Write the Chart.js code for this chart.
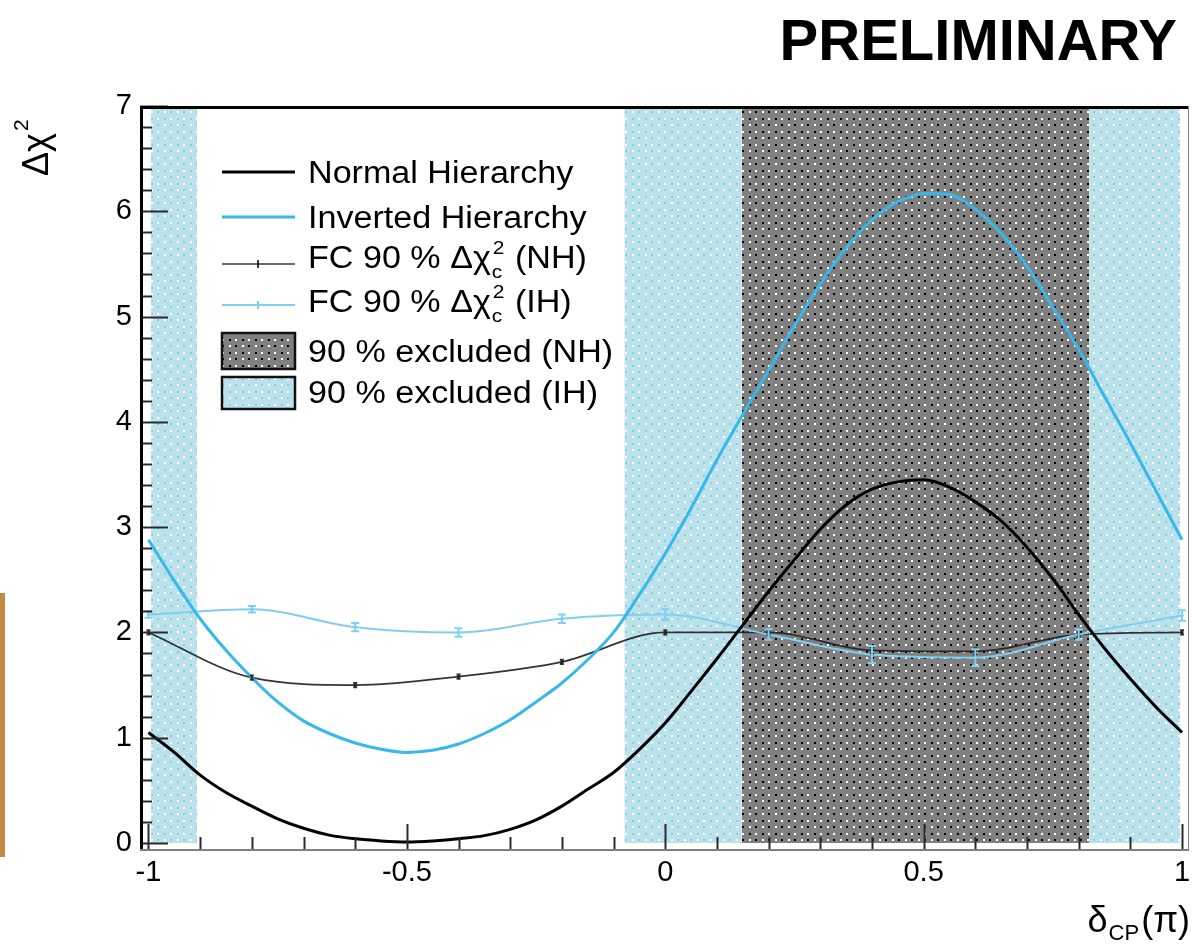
<!DOCTYPE html>
<html>
<head>
<meta charset="utf-8">
<script src="https://cdn.jsdelivr.net/npm/chart.js@4.4.1/dist/chart.umd.min.js"></script>
<style>
  html, body { margin: 0; padding: 0; background: #ffffff; }
  #wrap { position: relative; width: 1193px; height: 948px; overflow: hidden; }
  canvas { display: block; }
  #edge { position: absolute; left: 0; top: 593px; width: 5px; height: 264px; background: #c58b45; }
</style>
</head>
<body>
<div id="wrap">
  <canvas id="c" width="1193" height="948"></canvas>
  <div id="edge"></div>
</div>
<script>
// δCP scan points (units of π)
const deltaCP = [-1.00,-0.95,-0.90,-0.85,-0.80,-0.75,-0.70,-0.65,-0.60,-0.55,-0.50,-0.45,-0.40,-0.35,-0.30,-0.25,-0.20,-0.15,-0.10,-0.05,
                  0.00, 0.05, 0.10, 0.15, 0.20, 0.25, 0.30, 0.35, 0.40, 0.45, 0.50, 0.55, 0.60, 0.65, 0.70, 0.75, 0.80, 0.85, 0.90, 0.95, 1.00];

// Δχ² for the normal hierarchy
const chi2NH = [1.05,0.86,0.645,0.48,0.35,0.23,0.14,0.075,0.04,0.02,0.01,0.02,0.04,0.07,0.13,0.22,0.35,0.51,0.67,0.89,
                1.14,1.44,1.75,2.07,2.39,2.69,2.98,3.21,3.36,3.43,3.45,3.38,3.24,3.06,2.81,2.51,2.17,1.85,1.56,1.29,1.05];

// Δχ² for the inverted hierarchy
const chi2IH = [2.88,2.49,2.13,1.83,1.57,1.34,1.16,1.04,0.95,0.89,0.86,0.88,0.94,1.04,1.17,1.34,1.52,1.74,2.00,2.36,
                2.75,3.18,3.64,4.07,4.49,4.91,5.31,5.65,5.92,6.09,6.17,6.16,6.02,5.79,5.48,5.09,4.69,4.24,3.80,3.34,2.88];

// Feldman-Cousins 90 % critical values
const fcDelta  = [-1.0,-0.8,-0.6,-0.4,-0.2, 0.0, 0.2, 0.4, 0.6, 0.8, 1.0];
const fcNH     = [ 2.00,1.57,1.50,1.58,1.72,2.00,2.00,1.83,1.82,1.98,2.00];
const fcNHErr  = [ 0.02,0.02,0.02,0.02,0.02,0.02,0.02,0.03,0.03,0.02,0.02];
const fcIH     = [ 2.17,2.22,2.05,2.00,2.13,2.17,1.98,1.79,1.76,1.98,2.16];
const fcIHErr  = [ 0.03,0.03,0.04,0.04,0.04,0.05,0.05,0.08,0.08,0.05,0.05];

// δCP intervals excluded at 90 % CL
const excludedIH = [[-0.995,-0.906],[-0.079,0.148],[0.821,0.996]];
const excludedNH = [[0.148,0.821]];

// axis ticks
const xTickValues = [-1,-0.5,0,0.5,1];
const yTickValues = [0,1,2,3,4,5,6,7];

const FONT = "'Liberation Sans', Arial, Helvetica, sans-serif";
Chart.defaults.font.family = FONT;

const canvas = document.getElementById('c');
const ctx0 = canvas.getContext('2d');

// dotted hatch fills
function dotPattern(bg, dotA, dotB) {
  const t = document.createElement('canvas');
  t.width = 13; t.height = 13;
  const g = t.getContext('2d');
  g.fillStyle = bg; g.fillRect(0, 0, 13, 13);
  g.fillStyle = dotA; g.fillRect(1, 1, 2, 2); g.fillRect(8, 7, 2, 2);
  g.fillStyle = dotB; g.fillRect(8, 1, 2, 2); g.fillRect(1, 7, 2, 2);
  return ctx0.createPattern(t, 'repeat');
}
const fillIH = dotPattern('#bbe2eb', '#ffffff', '#86d1df');
const fillNH = dotPattern('#808080', '#ffffff', '#000000');

const COL_NH = '#000000';
const COL_IH = '#38b7ea';
const COL_FCNH = 'rgba(30,30,30,0.9)';
const COL_FCIH = '#80cff0';

function bandDatasets(intervals, fill) {
  return intervals.map(([a, b]) => ({
    data: [{x: a, y: 7}, {x: b, y: 7}],
    fill: 'origin',
    backgroundColor: fill,
    borderWidth: 0,
    pointRadius: 0,
    order: 10
  }));
}

const datasets = [
  ...bandDatasets(excludedIH, fillIH),
  ...bandDatasets(excludedNH, fillNH),
  {
    label: 'FC 90 % (NH)',
    data: fcDelta.map((x, i) => ({x, y: fcNH[i]})),
    errorBars: fcNHErr, capHalf: 2,
    borderColor: COL_FCNH, backgroundColor: COL_FCNH,
    borderWidth: 1.7, pointRadius: 1.6, pointBorderWidth: 0,
    cubicInterpolationMode: 'monotone', fill: false, order: 4
  },
  {
    label: 'FC 90 % (IH)',
    data: fcDelta.map((x, i) => ({x, y: fcIH[i]})),
    errorBars: fcIHErr, capHalf: 4,
    borderColor: COL_FCIH, backgroundColor: COL_FCIH,
    borderWidth: 2, pointRadius: 1.6, pointBorderWidth: 0,
    cubicInterpolationMode: 'monotone', fill: false, order: 3
  },
  {
    label: 'Normal Hierarchy',
    data: deltaCP.map((x, i) => ({x, y: chi2NH[i]})),
    borderColor: COL_NH, borderWidth: 3, pointRadius: 0,
    cubicInterpolationMode: 'monotone', fill: false, order: 2
  },
  {
    label: 'Inverted Hierarchy',
    data: deltaCP.map((x, i) => ({x, y: chi2IH[i]})),
    borderColor: COL_IH, borderWidth: 3, pointRadius: 0,
    cubicInterpolationMode: 'monotone', fill: false, order: 1
  }
];

// vertical error bars on the FC points
const errorBars = {
  id: 'errorBars',
  afterDatasetsDraw(chart) {
    const {ctx, scales: {x, y}} = chart;
    chart.data.datasets.forEach(ds => {
      if (!ds.errorBars) return;
      ctx.save();
      ctx.strokeStyle = ds.borderColor;
      ctx.lineWidth = 2;
      ds.data.forEach((p, j) => {
        const e = ds.errorBars[j];
        const px = x.getPixelForValue(p.x);
        const y1 = y.getPixelForValue(p.y - e);
        const y2 = y.getPixelForValue(p.y + e);
        const c = ds.capHalf;
        ctx.beginPath();
        ctx.moveTo(px, y1); ctx.lineTo(px, y2);
        ctx.moveTo(px - c, y1); ctx.lineTo(px + c, y1);
        ctx.moveTo(px - c, y2); ctx.lineTo(px + c, y2);
        ctx.stroke();
      });
      ctx.restore();
    });
  }
};

// frame and inward tick marks
const frame = {
  id: 'frame',
  afterDatasetsDraw(chart) {
    const {ctx, chartArea: a, scales: {x, y}} = chart;
    ctx.save();
    ctx.strokeStyle = '#2a2a2a';
    ctx.lineWidth = 2;
    for (let k = 0; k <= 35; k++) {
      const py = Math.round(y.getPixelForValue(k / 5)) + 0.5;
      const len = (k % 5 === 0) ? 28 : 12;
      ctx.beginPath(); ctx.moveTo(a.left, py); ctx.lineTo(a.left + len, py); ctx.stroke();
    }
    for (let k = -10; k <= 10; k++) {
      const px = Math.round(x.getPixelForValue(k / 10)) + 0.5;
      const len = (k % 5 === 0) ? 27 : 14;
      ctx.beginPath(); ctx.moveTo(px, a.bottom); ctx.lineTo(px, a.bottom - len); ctx.stroke();
    }
    // box
    ctx.strokeStyle = '#000';
    ctx.lineWidth = 3;
    ctx.beginPath(); ctx.moveTo(a.left + 1.5, a.bottom); ctx.lineTo(a.left + 1.5, a.top + 1.5); ctx.lineTo(a.right, a.top + 1.5); ctx.stroke();
    ctx.strokeStyle = '#808080';
    ctx.lineWidth = 2;
    ctx.beginPath(); ctx.moveTo(a.left, a.bottom - 1); ctx.lineTo(a.right, a.bottom - 1); ctx.stroke();
    ctx.lineWidth = 1;
    ctx.beginPath(); ctx.moveTo(a.right - 0.5, a.top); ctx.lineTo(a.right - 0.5, a.bottom); ctx.stroke();
    ctx.restore();
  }
};

// legend, axis titles and the banner
const legendRows = [
  {kind: 'line', color: COL_NH, width: 3, marker: false, ly: 172, base: 183, parts: [{t: 'Normal Hierarchy'}]},
  {kind: 'line', color: COL_IH, width: 3, marker: false, ly: 217, base: 228, parts: [{t: 'Inverted Hierarchy'}]},
  {kind: 'line', color: COL_FCNH, width: 1.7, marker: true, ly: 264, base: 268,
   parts: [{t: 'FC 90 % Δχ'}, {sup: '2', sub: 'c'}, {t: ' (NH)'}]},
  {kind: 'line', color: COL_FCIH, width: 2, marker: true, ly: 305, base: 312,
   parts: [{t: 'FC 90 % Δχ'}, {sup: '2', sub: 'c'}, {t: ' (IH)'}]},
  {kind: 'box', fill: fillNH, y0: 333, y1: 369, base: 362, parts: [{t: '90 % excluded (NH)'}]},
  {kind: 'box', fill: fillIH, y0: 377, y1: 409, base: 403, parts: [{t: '90 % excluded (IH)'}]}
];

function drawRich(ctx, parts, x, base, size, sx) {
  let cx = x;
  parts.forEach(p => {
    if (p.t !== undefined) {
      ctx.font = size + 'px ' + FONT;
      ctx.save(); ctx.translate(cx, base); ctx.scale(sx, 1); ctx.fillText(p.t, 0, 0); ctx.restore();
      cx += ctx.measureText(p.t).width * sx;
    } else {
      const s = Math.round(size * 0.6);
      ctx.font = s + 'px ' + FONT;
      let w = 0;
      if (p.sup) { ctx.save(); ctx.translate(cx + 2, base - size * 0.45); ctx.scale(sx, 1); ctx.fillText(p.sup, 0, 0); ctx.restore(); w = Math.max(w, ctx.measureText(p.sup).width * sx); }
      if (p.sub) { ctx.save(); ctx.translate(cx + 1, base + size * 0.33); ctx.scale(sx, 1); ctx.fillText(p.sub, 0, 0); ctx.restore(); w = Math.max(w, ctx.measureText(p.sub).width * sx); }
      cx += w + 3;
    }
  });
  return cx;
}

const annotations = {
  id: 'annotations',
  afterDraw(chart) {
    const ctx = chart.ctx;
    ctx.save();
    ctx.fillStyle = '#000';
    ctx.textBaseline = 'alphabetic';
    ctx.textAlign = 'left';

    // legend
    const x0 = 222, x1 = 295, tx = 308;
    legendRows.forEach(r => {
      if (r.kind === 'line') {
        ctx.strokeStyle = r.color; ctx.lineWidth = r.width;
        ctx.beginPath(); ctx.moveTo(x0, r.ly); ctx.lineTo(x1, r.ly); ctx.stroke();
        if (r.marker) {
          ctx.lineWidth = 2;
          ctx.beginPath(); ctx.moveTo(258, r.ly - 4); ctx.lineTo(258, r.ly + 4); ctx.stroke();
        }
      } else {
        ctx.fillStyle = r.fill; ctx.fillRect(x0, r.y0, x1 - x0, r.y1 - r.y0);
        ctx.strokeStyle = '#111'; ctx.lineWidth = 2.5;
        ctx.strokeRect(x0, r.y0, x1 - x0, r.y1 - r.y0);
      }
      ctx.fillStyle = '#000';
      drawRich(ctx, r.parts, tx, r.base, 31, 1.1);
    });

    // y-axis title
    ctx.save();
    ctx.translate(48, 176);
    ctx.rotate(-Math.PI / 2);
    ctx.font = '36px ' + FONT;
    ctx.fillText('Δχ', 0, 0);
    const wy = ctx.measureText('Δχ').width;
    ctx.font = '21px ' + FONT;
    ctx.fillText('2', wy + 2, -20);
    ctx.restore();

    // x-axis title, right aligned on the frame
    ctx.font = '36px ' + FONT;
    const wD = ctx.measureText('δ').width, wP = ctx.measureText('(π)').width;
    ctx.font = '22px ' + FONT;
    const wC = ctx.measureText('CP').width;
    let xr = 1190 - wP;
    ctx.font = '36px ' + FONT;
    ctx.fillText('(π)', xr, 932);
    ctx.font = '22px ' + FONT;
    ctx.fillText('CP', xr - wC - 2, 940);
    ctx.font = '36px ' + FONT;
    ctx.fillText('δ', xr - wC - 3 - wD, 932);

    // banner
    ctx.font = 'bold 58px ' + FONT;
    ctx.textAlign = 'right';
    ctx.fillText('PRELIMINARY', 1177, 60);
    ctx.restore();
  }
};

new Chart(canvas, {
  type: 'line',
  data: {datasets},
  options: {
    responsive: false,
    animation: false,
    devicePixelRatio: 1,
    layout: {padding: {left: 0, top: 106, right: 1, bottom: 0}},
    plugins: {legend: {display: false}, tooltip: {enabled: false}, title: {display: false}},
    scales: {
      x: {
        type: 'linear', bounds: 'data', min: -1.0164, max: 1.0135,
        afterBuildTicks: s => { s.ticks = xTickValues.map(v => ({value: v})); },
        afterFit: s => { s.height = 97; s.paddingLeft = 0; s.paddingRight = 0; },
        grid: {display: false, drawTicks: false},
        border: {display: false},
        ticks: {autoSkip: false, maxRotation: 0, padding: 5, color: '#000', font: {size: 29}, callback: v => String(v)}
      },
      y: {
        type: 'linear', bounds: 'data', min: -0.076, max: 7,
        afterBuildTicks: s => { s.ticks = yTickValues.map(v => ({value: v})); },
        afterFit: s => { s.width = 140; s.paddingTop = 0; s.paddingBottom = 0; },
        grid: {display: false, drawTicks: false},
        border: {display: false},
        ticks: {autoSkip: false, padding: 8, color: '#000', font: {size: 29}, callback: v => String(v)}
      }
    }
  },
  plugins: [errorBars, frame, annotations]
});
</script>
</body>
</html>
